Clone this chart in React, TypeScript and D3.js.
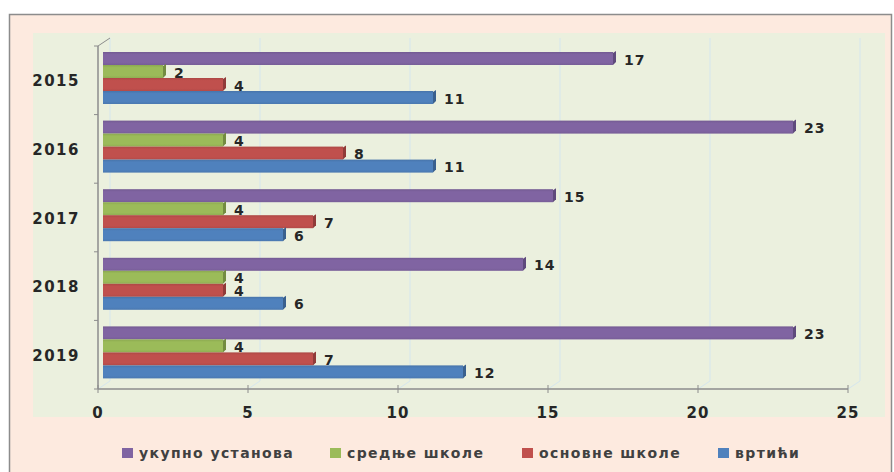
import React from "react";
import * as d3 from "d3";

const years = ["2015", "2016", "2017", "2018", "2019"];
const seriesNames = ["укупно установа", "средње школе", "основне школе", "вртићи"];
const ukupno = [17, 23, 15, 14, 23];
const srednje = [2, 4, 4, 4, 4];
const osnovne = [4, 8, 7, 4, 7];
const vrtici = [11, 11, 6, 6, 12];
const xTicks = [0, 5, 10, 15, 20, 25];
const colors = ["#8064a2", "#9bbb59", "#c0504d", "#4f81bd"];
const darkColors = ["#5f4a7c", "#738c40", "#903b39", "#3a608e"];

const W = 894, H = 472;

export default function App() {
  const series = [ukupno, srednje, osnovne, vrtici];
  const axisX0 = 98;
  const x = d3.scaleLinear().domain([0, 25]).range([axisX0, 848]);
  const y = d3.scaleBand().domain(years).range([46, 389]).paddingInner(0).paddingOuter(0);
  const inner = d3.scaleBand().domain(seriesNames).range([6, 58]).paddingInner(0).paddingOuter(0);
  const dx = 5; // bar depth offset
  const gx = 12, gy = 8; // back wall offset
  const font = "'DejaVu Sans', Verdana, sans-serif";
  const legendX = [122, 330, 522, 718];

  return (
    <svg width={W} height={H} style={{ position: "absolute", left: 0, top: 0 }} fontFamily={font}>
      <defs>
        {colors.map((c, i) => (
          <linearGradient key={i} id={`g${i}`} x1="0" y1="0" x2="0" y2="1">
            <stop offset="0" stopColor={d3.color(c)!.darker(0.3).toString()} />
            <stop offset="0.2" stopColor={c} />
            <stop offset="0.8" stopColor={c} />
            <stop offset="1" stopColor={d3.color(c)!.darker(0.2).toString()} />
          </linearGradient>
        ))}
      </defs>
      <rect x={0} y={0} width={W} height={H} fill="#ffffff" />
      <rect x={9.5} y={14.5} width={882} height={470} fill="#fdeadf" stroke="#8c8c8c" strokeWidth={1.5} />
      <rect x={33} y={33} width={852} height={384} fill="#ebf0de" />
      {/* gridlines (back wall) */}
      {xTicks.map((t) => (
        <g key={t}>
          <line x1={x(t) + gx} x2={x(t) + gx} y1={38} y2={389 - gy} stroke="#d5e6ee" strokeWidth={1} />
          <line x1={x(t)} x2={x(t) + gx} y1={389} y2={389 - gy} stroke="#d5e6ee" strokeWidth={1} />
        </g>
      ))}
      {/* vertical axis */}
      <line x1={axisX0} x2={axisX0} y1={46} y2={389} stroke="#8c8c8c" strokeWidth={1.5} />
      <line x1={axisX0} x2={axisX0 + gx} y1={46} y2={46 - gy} stroke="#8c8c8c" strokeWidth={1} />
      {years.map((yr) => (
        <line key={yr} x1={axisX0 - 4} x2={axisX0} y1={y(yr)!} y2={y(yr)!} stroke="#8c8c8c" />
      ))}
      <line x1={axisX0 - 4} x2={axisX0} y1={389} y2={389} stroke="#8c8c8c" />
      {/* horizontal axis */}
      <line x1={axisX0} x2={848} y1={389} y2={389} stroke="#8c8c8c" strokeWidth={1.5} />
      {xTicks.map((t) => (
        <g key={t}>
          <line x1={x(t)} x2={x(t)} y1={385} y2={393} stroke="#8c8c8c" />
          <text x={x(t)} y={418} textAnchor="middle" fontSize={15} letterSpacing={1} fontWeight="bold" fill="#262626">{t}</text>
        </g>
      ))}
      {years.map((yr) => (
        <text key={yr} x={80} y={y(yr)! + y.bandwidth() / 2 + 6} textAnchor="end" fontSize={15} letterSpacing={1.5} fontWeight="bold" fill="#262626">{yr}</text>
      ))}
      {/* bars */}
      {years.map((yr, yi) =>
        series.map((s, si) => {
          const v = s[yi];
          const y0 = y(yr)! + inner(seriesNames[si])!;
          const h = inner.bandwidth();
          const bx0 = axisX0 + dx;
          const bx1 = x(v) + dx;
          return (
            <g key={yr + si}>
              <rect x={bx0} y={y0} width={bx1 - bx0} height={h} fill={`url(#g${si})`} />
              <path d={`M${bx1},${y0 + 1} L${bx1 + 3},${y0 - 1} L${bx1 + 3},${y0 + h - 3} L${bx1},${y0 + h} Z`} fill={darkColors[si]} />
              <text x={bx1 + 11} y={y0 + h / 2 + 6} fontSize={14} letterSpacing={1} fontWeight="bold" fill="#262626">{v}</text>
            </g>
          );
        })
      )}
      {/* legend */}
      {seriesNames.map((n, i) => {
        const lx = legendX[i];
        return (
          <g key={n}>
            <rect x={lx} y={448} width={11} height={10} fill={colors[i]} />
            <text x={lx + 17} y={458} fontSize={14} letterSpacing={1.4} fontWeight="bold" fill="#404040">{n}</text>
          </g>
        );
      })}
    </svg>
  );
}
